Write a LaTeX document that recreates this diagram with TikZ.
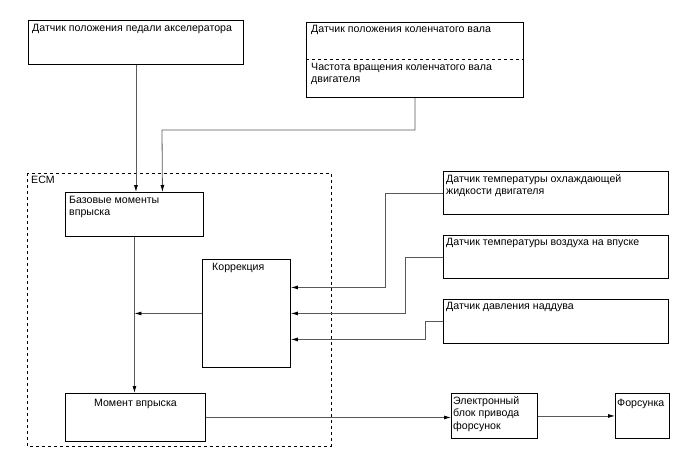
\documentclass[tikz,border=0pt]{standalone}
\usepackage{fontspec}
\setmainfont{Liberation Sans}
\usetikzlibrary{arrows.meta}

\tikzset{
  box/.style={draw, line width=0.9pt, anchor=north west, inner sep=0pt},
  txt/.style={anchor=north west, align=left, inner sep=0pt,
    font=\fontsize{10.6}{12.5}\selectfont},
  wire/.style={draw=black!65, line width=0.8pt},
  arr/.style={wire, -{Latex[length=7pt,width=4pt,fill=black,color=black]}}
}

\begin{document}
\begin{tikzpicture}[x=1pt, y=-1pt]
  \useasboundingbox (0,0) rectangle (688,463);
  % Boxes:
  \node[box, minimum width=215, minimum height=44] (pedal) at (28,20) {};
  \node[txt] at (32,24) {Датчик положения педали акселератора};
  \node[box, minimum width=217, minimum height=75] (crank) at (306,22) {};
  \draw[dashed, line width=0.6pt] (306,59) -- (523,59);
  \node[txt] at (311,25) {Датчик положения коленчатого вала};
  \node[txt] at (311,63) {Частота вращения коленчатого вала\\двигателя};
  \draw[dashed, line width=0.9pt] (27,173) rectangle (331,446);
  \node[txt] (ecm) at (31,176) {ECM};
  \node[box, minimum width=138, minimum height=44] (base) at (65,192) {};
  \node[txt] at (69,196) {Базовые моменты\\впрыска};
  \node[box, minimum width=88, minimum height=108] (corr) at (202,259) {};
  \node[txt] at (212,263) {Коррекция};
  \node[box, minimum width=225, minimum height=43] (cool) at (443,171) {};
  \node[txt] at (446,174) {Датчик температуры охлаждающей\\жидкости двигателя};
  \node[box, minimum width=225, minimum height=43] (air) at (443,235) {};
  \node[txt] at (446,238) {Датчик температуры воздуха на впуске};
  \node[box, minimum width=225, minimum height=44] (boost) at (443,299) {};
  \node[txt] at (446,302) {Датчик давления наддува};
  \node[box, minimum width=140, minimum height=48] (moment) at (65,393) {};
  \node[txt, anchor=north] at ([yshift=-6]moment.north) {Момент впрыска};
  \node[box, minimum width=86, minimum height=45] (elec) at (451,393) {};
  \node[txt] at (453,396) {Электронный\\блок привода\\форсунок};
  \node[box, minimum width=54, minimum height=45] (inj) at (615,393) {};
  \node[txt] at (617,399) {Форсунка};
  % Bends and ends of the sensor wires:
  \coordinate (k1) at (385,0);
  \coordinate (k2) at (405,0);
  \coordinate (k3) at (425,0);
  \coordinate (c1) at ([yshift=26]corr.east);
  \coordinate (c3) at ([yshift=-26]corr.east);
  % Wires:
  \draw[arr] (pedal.south) -- (pedal.south |- base.north);
  \draw[arr] (crank.south) |- (162,130) -- ([xshift=28]base.north);
  \draw[arr] (base.south) -- (base.south |- moment.north);
  \draw[arr] (corr.west) -- (corr.west -| base.south);
  \draw[arr] (cool.west) -- (cool.west -| k1) |- (c1);
  \draw[arr] (air.west) -- (air.west -| k2) |- (corr.east);
  \draw[arr] (boost.west) -- (boost.west -| k3) |- (c3);
  \draw[arr] (moment.east) -- (moment.east -| elec.west);
  \draw[arr] (elec.east) -- (inj.west);
\end{tikzpicture}
\end{document}
